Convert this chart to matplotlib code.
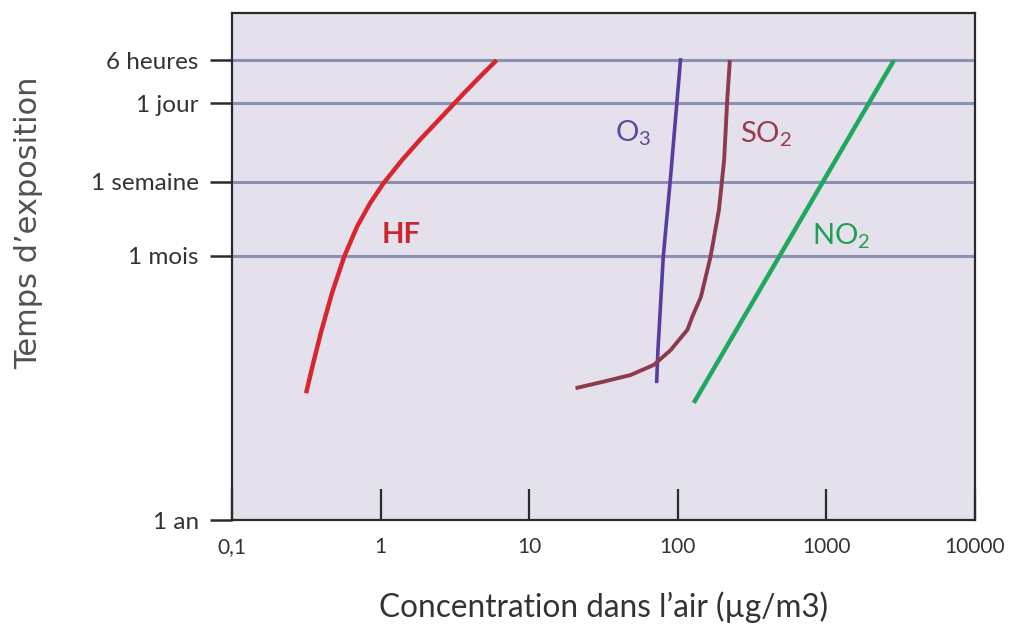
import numpy as np
import matplotlib
matplotlib.use('Agg')
import matplotlib.pyplot as plt

NARROW = ['Lato', 'DejaVu Sans']

# y axis: arbitrary position units (1 an = 0, top of frame = 10)
time_labels = ['1 an', '1 mois', '1 semaine', '1 jour', '6 heures']
time_pos = [0.0, 5.21, 6.67, 8.22, 9.07]

x_ticks = [0.1, 1, 10, 100, 1000, 10000]
x_ticklabels = ['0,1', '1', '10', '100', '1000', '10000']

# curves (concentration in ug/m3, time position)
hf_x = [0.315, 0.347, 0.395, 0.470, 0.568, 0.695, 0.850, 1.044, 1.394, 1.84,
        2.573, 3.64, 4.91, 6.04]
hf_y = [2.50, 3.02, 3.68, 4.47, 5.19, 5.79, 6.25, 6.64, 7.10, 7.50,
        7.95, 8.42, 8.81, 9.07]

o3_x = [72, 73.5, 79.8, 89.4, 104.5]
o3_y = [2.70, 3.35, 5.19, 6.77, 9.11]

so2_x = [20.5, 31.8, 48.1, 69, 89.4, 101.7, 116, 125.2, 143, 166, 189, 205,
         215, 224]
so2_y = [2.60, 2.73, 2.86, 3.06, 3.35, 3.55, 3.75, 4.01, 4.40, 5.19, 6.11,
         7.10, 8.28, 9.07]

no2_x = [128, 2850]
no2_y = [2.31, 9.07]

fig = plt.figure(figsize=(10.11, 6.31), dpi=100)
ax = fig.add_axes([0.2295, 0.1759, 0.7349, 0.8035])
ax.set_facecolor('#e4e0ec')

ax.set_xscale('log')
ax.set_xlim(0.1, 10000)
ax.set_ylim(0, 10)

# horizontal guide lines
for p in time_pos[1:]:
    ax.axhline(p, color='#8990b2', lw=2.2, zorder=1)

line_kw = dict(solid_capstyle='butt', solid_joinstyle='round', zorder=3)
ax.plot(hf_x, hf_y, color='#d8262e', lw=3.2, **line_kw)
ax.plot(o3_x, o3_y, color='#5a3c9e', lw=2.6, **line_kw)
ax.plot(so2_x, so2_y, color='#8c3a4c', lw=2.8, **line_kw)
ax.plot(no2_x, no2_y, color='#1fa85e', lw=3.2, **line_kw)

ax.text(1.37, 5.62, 'HF', color='#cc2430', fontsize=21, fontweight='bold',
        family=NARROW, ha='center', va='center')
ax.text(50, 7.63, r'O$_\mathregular{3}$', color='#5a4a9e', fontsize=21,
        family=NARROW, ha='center', va='center')
ax.text(391, 7.61, r'SO$_\mathregular{2}$', color='#9a3b4a', fontsize=21,
        family=NARROW, ha='center', va='center')
ax.text(1250, 5.60, r'NO$_\mathregular{2}$', color='#1fa050', fontsize=21,
        family=NARROW, ha='center', va='center')

for s in ax.spines.values():
    s.set_color('#2a2a2a')
    s.set_linewidth(1.6)

ax.set_xticks(x_ticks)
ax.set_xticklabels(x_ticklabels, family=NARROW, fontsize=15, color='#333333')
ax.xaxis.set_minor_locator(matplotlib.ticker.NullLocator())
ax.tick_params(axis='x', direction='in', length=22, width=1.6, pad=12,
               color='#2a2a2a')

ax.set_yticks(time_pos)
ax.set_yticklabels(time_labels, family=NARROW, fontsize=17.5, color='#333333')
ax.tick_params(axis='y', direction='out', length=16, width=1.8, pad=8,
               color='#2a2a2a')

ax.set_xlabel('Concentration dans l\u2019air (\u00b5g/m3)', family=NARROW,
              fontsize=22.7, color='#333333', labelpad=25)
fig.text(0.028, 0.647, 'Temps d\u2019exposition', rotation=90, fontsize=22,
         color='#505050', ha='center', va='center', family='DejaVu Sans')

fig.savefig('out.png', dpi=100, facecolor='white')
